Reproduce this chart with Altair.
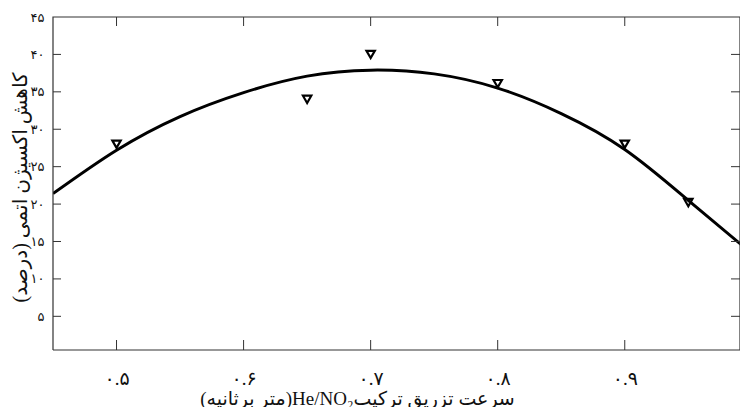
import altair as alt
import pandas as pd

# ---- data ----
marker_x = [0.5, 0.65, 0.7, 0.8, 0.9, 0.95]
marker_y = [28.0, 34.0, 40.0, 36.1, 28.0, 20.2]

curve_x = [0.45, 0.5, 0.55, 0.6, 0.65, 0.7, 0.75, 0.8, 0.85, 0.9, 0.95, 1.0]
curve_y = [21.4, 27.2, 31.7, 34.9, 37.1, 37.9, 37.4, 35.5, 32.1, 27.3, 20.5, 13.4]

x_ticks = [0.5, 0.6, 0.7, 0.8, 0.9]
x_tick_labels = ["۰.۵", "۰.۶", "۰.۷", "۰.۸", "۰.۹"]
y_ticks = [5, 10, 15, 20, 25, 30, 35, 40, 45]
y_tick_labels = ["۵", "۱۰", "۱۵", "۲۰", "۲۵", "۳۰", "۳۵", "۴۰", "۴۵"]
y_inner_ticks = [5, 10, 15, 20, 25, 30, 35, 40]

x_title = "(متر برثانیه)He/NO₂سرعت تزریق ترکیب"
y_title = "کاهش اکسیژن اتمی (درصد)"

X_DOMAIN = [0.45, 0.9907]
Y_DOMAIN = [0.5, 45]

W, H = 687, 333
FA_FONT = "Liberation Serif, DejaVu Sans"
LINE_COLOR = "#333333"


def label_lookup(vals, labels):
    parts = [f"datum.value == {v} ? '{l}'" for v, l in zip(vals, labels)]
    return " : ".join(parts) + " : ''"


curve_df = pd.DataFrame({"x": curve_x, "y": curve_y})
marker_df = pd.DataFrame({"x": marker_x, "y": marker_y})

# plot frame along the scale domain limits
x0, x1 = X_DOMAIN
y0, y1 = Y_DOMAIN
frame_df = pd.DataFrame({
    "x": [x0, x1, x1, x0, x0],
    "y": [y0, y0, y1, y1, y0],
    "o": [0, 1, 2, 3, 4],
})

# inward tick segments (lengths expressed in scale units: ~10 px)
xlen = 10 * (x1 - x0) / W
ylen = 10 * (y1 - y0) / H
seg_rows = []
sid = 0
for t in x_ticks:
    seg_rows += [(sid, 0, t, y0), (sid, 1, t, y0 + ylen)]
    sid += 1
    seg_rows += [(sid, 0, t, y1), (sid, 1, t, y1 - 0.9 * ylen)]
    sid += 1
for v in y_inner_ticks:
    seg_rows += [(sid, 0, x0, v), (sid, 1, x0 + 0.8 * xlen, v)]
    sid += 1
    seg_rows += [(sid, 0, x1, v), (sid, 1, x1 - 0.9 * xlen, v)]
    sid += 1
ticks_df = pd.DataFrame(seg_rows, columns=["seg", "o", "x", "y"])

xscale = alt.Scale(domain=X_DOMAIN, nice=False, zero=False)
yscale = alt.Scale(domain=Y_DOMAIN, nice=False, zero=False)

xaxis = alt.Axis(
    values=x_ticks,
    labelExpr=label_lookup(x_ticks, x_tick_labels),
    ticks=False, domain=False, grid=False,
    labelPadding=28, labelBaseline="middle", labelFontSize=19,
    labelFont=FA_FONT, labelColor="#111", labelFlush=False, labelOverlap=False,
    title=x_title, titleFont=FA_FONT, titleFontSize=19, titleFontWeight="normal",
    titleColor="#111", titleX=304, titleY=48, titleAlign="center",
    titleBaseline="middle",
)
yaxis = alt.Axis(
    values=y_ticks,
    labelExpr=label_lookup(y_ticks, y_tick_labels),
    ticks=False, domain=False, grid=False,
    labelPadding=9, labelFontSize=13, labelFont=FA_FONT, labelColor="#111",
    labelFlush=False, labelOverlap=False, labelBaseline="middle",
    title=y_title, titleFont=FA_FONT, titleFontSize=20, titleFontWeight="normal",
    titleColor="#111", titleX=-33, titleY=170, titleAngle=270,
    titleAlign="center", titleBaseline="middle",
)

line = alt.Chart(curve_df).mark_line(
    color="black", strokeWidth=3, interpolate="natural", clip=True
).encode(
    x=alt.X("x:Q", scale=xscale, axis=xaxis),
    y=alt.Y("y:Q", scale=yscale, axis=yaxis),
)

markers = alt.Chart(marker_df).mark_point(
    shape="triangle-down", filled=False, color="black", strokeWidth=2.2, size=70, opacity=1
).encode(
    x=alt.X("x:Q", scale=xscale, axis=xaxis),
    y=alt.Y("y:Q", scale=yscale, axis=yaxis),
)

frame = alt.Chart(frame_df).mark_line(color=LINE_COLOR, strokeWidth=1.2).encode(
    x=alt.X("x:Q", scale=xscale, axis=xaxis),
    y=alt.Y("y:Q", scale=yscale, axis=yaxis),
    order=alt.Order("o:Q"),
)

ticks = alt.Chart(ticks_df).mark_line(color=LINE_COLOR, strokeWidth=1).encode(
    x=alt.X("x:Q", scale=xscale, axis=xaxis),
    y=alt.Y("y:Q", scale=yscale, axis=yaxis),
    detail="seg:N",
    order=alt.Order("o:Q"),
)

chart = alt.layer(
    line, markers, frame, ticks
).properties(
    width=W, height=H,
    autosize=alt.AutoSizeParams(type="none"),
    padding={"left": 45, "top": 9, "right": 0, "bottom": 57},
    background="white",
).configure_view(strokeWidth=0)

chart.save("out.html", embed_options={"renderer": "svg", "actions": False})
